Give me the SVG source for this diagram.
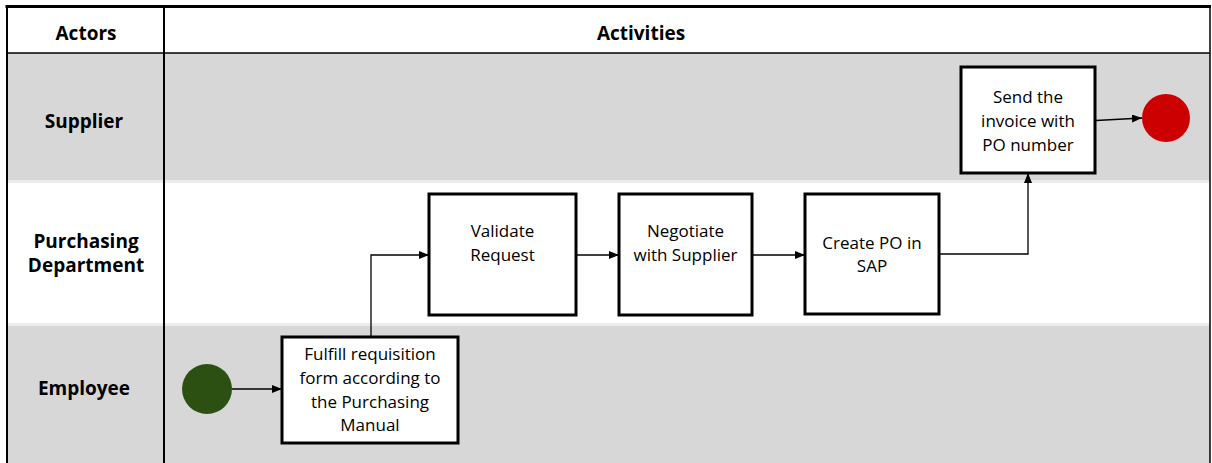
<svg xmlns="http://www.w3.org/2000/svg" width="1212" height="463" viewBox="0 0 1212 463">
  <defs>
    <marker id="arrow" viewBox="0 0 10 8" refX="10" refY="4" markerWidth="10" markerHeight="8" markerUnits="userSpaceOnUse" orient="auto">
      <path d="M0,0 L10,4 L0,8 Z" fill="#000"/>
    </marker>
    <style>
      .lane-grey { fill: #d7d7d7; }
      .lane-white { fill: #ffffff; }
      .edge { fill: #ececec; }
      .frame { stroke: #000; fill: none; }
      .actor { font-family: "Open Sans", "Liberation Sans", sans-serif; font-weight: bold; font-size: 19px; fill: #000; text-anchor: middle; }
      .task rect { fill: #fff; stroke: #000; stroke-width: 3; }
      .task text { font-family: "Open Sans", "Liberation Sans", sans-serif; font-size: 17px; fill: #000; text-anchor: middle; }
      .flow { stroke: #000; stroke-width: 1.3; fill: none; marker-end: url(#arrow); }
    </style>
  </defs>

  <!-- background and swimlanes -->
  <rect x="0" y="0" width="1212" height="463" fill="#fff"/>
  <g id="lanes">
    <rect x="7" y="7" width="1203" height="46" class="lane-white"/>
    <rect x="7" y="53" width="1203" height="128" class="lane-grey"/>
    <rect x="7" y="181" width="1203" height="144" class="lane-white"/>
    <rect x="7" y="325" width="1203" height="138" class="lane-grey"/>
    <rect x="7" y="180" width="1203" height="3" class="edge"/>
    <rect x="7" y="323" width="1203" height="3" class="edge"/>
  </g>

  <!-- table frame -->
  <g id="frame">
    <line x1="5.5" y1="6.5" x2="1211" y2="6.5" class="frame" stroke-width="3"/>
    <line x1="7" y1="6" x2="7" y2="463" class="frame" stroke-width="2"/>
    <line x1="1210" y1="6" x2="1210" y2="463" class="frame" stroke-width="1.5"/>
    <line x1="7" y1="53" x2="1210" y2="53" class="frame" stroke-width="1.5"/>
    <line x1="164" y1="6" x2="164" y2="463" class="frame" stroke-width="2"/>
  </g>

  <!-- headers and actor labels -->
  <g id="headers">
    <text x="86" y="40" class="actor">Actors</text>
    <text x="641" y="40" class="actor">Activities</text>
    <text x="84" y="128" class="actor">Supplier</text>
    <text x="86" y="248" class="actor">Purchasing</text>
    <text x="86" y="272" class="actor">Department</text>
    <text x="84" y="395" class="actor">Employee</text>
  </g>

  <!-- connectors -->
  <g id="connectors">
    <line x1="232" y1="389" x2="282" y2="389" class="flow"/>
    <polyline points="371,337 371,255 429,255" class="flow"/>
    <line x1="576" y1="255" x2="619" y2="255" class="flow"/>
    <line x1="752" y1="255" x2="805" y2="255" class="flow"/>
    <polyline points="939,254 1028,254 1028,173" class="flow"/>
    <line x1="1096" y1="120.5" x2="1142" y2="118" class="flow"/>
  </g>

  <!-- start event -->
  <g id="start">
    <circle cx="207" cy="389" r="25" fill="#2c5012"/>
  </g>

  <!-- end event -->
  <g id="end">
    <circle cx="1166" cy="118" r="24" fill="#cc0000"/>
  </g>

  <g id="fulfill-requisition" class="task">
    <rect x="282" y="337" width="176" height="106"/>
    <text x="370" y="360">Fulfill requisition</text>
    <text x="370" y="384">form according to</text>
    <text x="370" y="408">the Purchasing</text>
    <text x="370" y="431">Manual</text>
  </g>

  <g id="validate-request" class="task">
    <rect x="429" y="194" width="147" height="121"/>
    <text x="502.5" y="237">Validate</text>
    <text x="502.5" y="261">Request</text>
  </g>

  <g id="negotiate-supplier" class="task">
    <rect x="619" y="194" width="133" height="121"/>
    <text x="685.5" y="237">Negotiate</text>
    <text x="685.5" y="261">with Supplier</text>
  </g>

  <g id="create-po" class="task">
    <rect x="805" y="194" width="134" height="120"/>
    <text x="872" y="249">Create PO in</text>
    <text x="872" y="272">SAP</text>
  </g>

  <g id="send-invoice" class="task">
    <rect x="961" y="67" width="134" height="106"/>
    <text x="1028" y="103">Send the</text>
    <text x="1028" y="127">invoice with</text>
    <text x="1028" y="151">PO number</text>
  </g>
</svg>
